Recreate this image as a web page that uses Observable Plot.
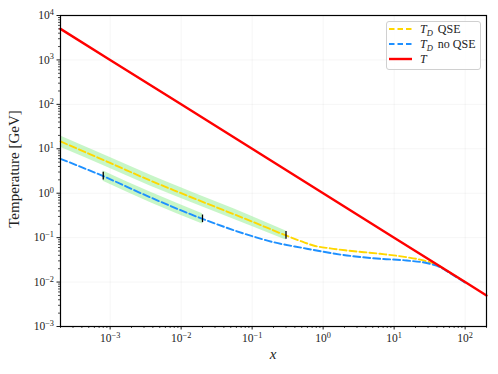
<!DOCTYPE html>
<html>
<head>
<meta charset="utf-8">
<script src="https://cdn.jsdelivr.net/npm/d3@7"></script>
<script src="https://cdn.jsdelivr.net/npm/@observablehq/plot@0.6"></script>
<style>
  body { margin: 0; background: #fff; }
  #wrap { position: relative; width: 498px; height: 374px; }
  #wrap svg text, #wrap svg tspan { font-family: "Liberation Serif", "DejaVu Serif", serif !important; }
  #legend { position: absolute; left: 386px; top: 21px; width: 95px; height: 49px; box-sizing: border-box;
    border: 1px solid #d0d0d0; border-radius: 3px; background: rgba(255,255,255,0.85); }
</style>
</head>
<body>
<div id="wrap"></div>
<script>
// Red: plasma temperature T
const xT = [2e-4, 1e-3, 1e-2, 1e-1, 1, 10, 100, 200];
const yT = [5000, 1000, 100, 10, 1, 0.1, 0.01, 0.005];

// T_D with QSE (gold)
const xQSE = [2e-4, 1e-3, 3.66e-3, 1e-2, 0.1, 0.3, 0.5, 0.73, 1.26, 2.16, 6.35, 15, 26, 40, 60, 100];
const yQSE = [14.6, 4.8, 1.93, 1.0, 0.23, 0.112, 0.082, 0.0665, 0.0573, 0.0514, 0.0433, 0.0363, 0.0306, 0.0245, 0.0166, 0.0099];

// T_D without QSE (blue)
const xNo = [2e-4, 8e-4, 3.66e-3, 2e-2, 0.1, 0.2, 0.5, 2.16, 6.35, 15, 32, 45, 60, 100];
const yNo = [5.96, 2.42, 0.81, 0.265, 0.108, 0.079, 0.0592, 0.0397, 0.0334, 0.0306, 0.0258, 0.0215, 0.0162, 0.0097];

// Green uncertainty bands
const bandQx = [2e-4, 1e-3, 3.66e-3, 1e-2, 0.1, 0.3];
const bandQlo = [10.8, 3.6, 1.45, 0.76, 0.178, 0.089];
const bandQhi = [19.5, 6.4, 2.57, 1.32, 0.30, 0.141];
const bandNx = [8e-4, 3.66e-3, 2e-2];
const bandNlo = [1.85, 0.62, 0.203];
const bandNhi = [3.15, 1.06, 0.345];

// Black end markers of the bands
const markX = [8e-4, 2e-2, 0.3];
const markY = [2.42, 0.265, 0.112];

// Axis ticks (decades)
const xTicks = [1e-3, 1e-2, 1e-1, 1, 10, 100];
const yTicks = [1e-3, 1e-2, 1e-1, 1, 10, 100, 1000, 1e4];

const minor = (lo, hi) => {
  const out = [];
  for (let e = lo; e <= hi; e++) for (let m = 2; m <= 9; m++) out.push(m * Math.pow(10, e));
  return out;
};
const xMinor = minor(-4, 2).filter(v => v >= 2e-4 && v <= 200);
const yMinor = minor(-3, 3);

const T = xT.map((x, i) => ({x, y: yT[i]}));
const Q = xQSE.map((x, i) => ({x, y: yQSE[i]}));
const N = xNo.map((x, i) => ({x, y: yNo[i]}));
const BQ = bandQx.map((x, i) => ({x, lo: bandQlo[i], hi: bandQhi[i]}));
const BN = bandNx.map((x, i) => ({x, lo: bandNlo[i], hi: bandNhi[i]}));
const M = markX.map((x, i) => ({x, y: markY[i]}));

const fmt = d => "10^" + Math.round(Math.log10(d));
const dash = "7,3";
const SERIF = "'Liberation Serif', 'DejaVu Serif', serif";

const chart = Plot.plot({
  width: 498, height: 374,
  marginLeft: 60, marginRight: 12, marginTop: 15, marginBottom: 48,
  style: {fontFamily: SERIF, fontSize: "11px", color: "#222", background: "#fff"},
  x: {type: "log", domain: [2e-4, 200], label: null},
  y: {type: "log", domain: [1e-3, 1e4], label: null},
  marks: [
    Plot.gridX(xTicks, {stroke: "#000", strokeOpacity: 0.05, strokeWidth: 0.8}),
    Plot.gridY(yTicks, {stroke: "#000", strokeOpacity: 0.05, strokeWidth: 0.8}),
    Plot.areaY(BQ, {x: "x", y1: "lo", y2: "hi", fill: "#90ee90", fillOpacity: 0.5, curve: "monotone-x"}),
    Plot.areaY(BN, {x: "x", y1: "lo", y2: "hi", fill: "#90ee90", fillOpacity: 0.5, curve: "monotone-x"}),
    Plot.line(Q, {x: "x", y: "y", stroke: "#ffd700", strokeWidth: 1.9, strokeDasharray: dash, curve: "monotone-x"}),
    Plot.line(N, {x: "x", y: "y", stroke: "#1e90ff", strokeWidth: 1.9, strokeDasharray: dash, curve: "monotone-x"}),
    Plot.line(T, {x: "x", y: "y", stroke: "#ff0000", strokeWidth: 2.4}),
    Plot.ruleX(M, {x: "x", y1: d => d.y / 1.22, y2: d => d.y * 1.22, stroke: "#000", strokeWidth: 1.3}),
    Plot.axisX(xMinor, {tickSize: 2, tickFormat: () => "", stroke: "#000", strokeWidth: 0.7}),
    Plot.axisX(xTicks, {tickSize: 3.5, tickPadding: 4, tickFormat: fmt, stroke: "#000", strokeWidth: 0.9, fontSize: 11.5, fill: "#222"}),
    Plot.axisY(yMinor, {tickSize: 2, tickFormat: () => "", stroke: "#000", strokeWidth: 0.7}),
    Plot.axisY(yTicks, {tickSize: 3.5, tickPadding: 3, tickFormat: fmt, stroke: "#000", strokeWidth: 0.9, fontSize: 11.5, fill: "#222"}),
    Plot.frame({stroke: "#000", strokeWidth: 1.2})
  ]
});

// Superscript exponents in tick labels
d3.select(chart).selectAll("g[aria-label$='tick label'] text").each(function() {
  const t = this.textContent;
  if (!t.startsWith("10^")) return;
  const e = t.slice(3).replace("-", "\u2212");
  this.textContent = "10";
  d3.select(this).append("tspan").attr("dy", "-0.5em").attr("font-size", "0.72em").text(e);
});

// Axis titles
const svg = d3.select(chart);
svg.append("text").attr("transform", "translate(19,169) rotate(-90)")
  .attr("text-anchor", "middle").attr("font-size", 15).attr("fill", "#222")
  .text("Temperature [GeV]");
svg.append("text").attr("x", 273).attr("y", 359)
  .attr("text-anchor", "middle").attr("font-size", 15).attr("font-style", "italic").attr("fill", "#222")
  .text("x");

const wrap = document.getElementById("wrap");
wrap.appendChild(chart);

// Legend
const legend = document.createElement("div");
legend.id = "legend";
legend.innerHTML = `
<svg width="95" height="49" style="position:absolute;left:-1px;top:-1px;overflow:visible;">
  <line x1="3" x2="26" y1="8" y2="8" stroke="#ffd700" stroke-width="1.9" stroke-dasharray="5.5,3"/>
  <line x1="3" x2="26" y1="23" y2="23" stroke="#1e90ff" stroke-width="1.9" stroke-dasharray="5.5,3"/>
  <line x1="3" x2="26" y1="38" y2="38" stroke="#ff0000" stroke-width="2.4"/>
  <text x="34" y="12" font-size="12" fill="#222"><tspan font-style="italic">T</tspan><tspan font-style="italic" font-size="8.5" dy="2.5">D</tspan><tspan dy="-2.5" dx="5">QSE</tspan></text>
  <text x="34" y="27" font-size="12" fill="#222"><tspan font-style="italic">T</tspan><tspan font-style="italic" font-size="8.5" dy="2.5">D</tspan><tspan dy="-2.5" dx="5">no QSE</tspan></text>
  <text x="34" y="42" font-size="12" fill="#222" font-style="italic">T</text>
</svg>`;
wrap.appendChild(legend);
</script>
</body>
</html>
